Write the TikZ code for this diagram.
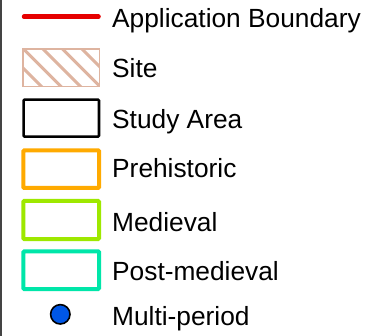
\documentclass[tikz,border=0pt]{standalone}
\usepackage{fontspec}
\setmainfont{Liberation Sans}
\definecolor{appred}{HTML}{E60000}
\definecolor{sitetan}{HTML}{DEB4A0}
\definecolor{prehist}{HTML}{FFAA00}
\definecolor{medgreen}{HTML}{9EE800}
\definecolor{postmed}{HTML}{00E6A9}
\definecolor{multiblue}{HTML}{0057E6}
\definecolor{edgegray}{HTML}{444444}
\begin{document}
\begin{tikzpicture}[x=1pt,y=-1pt,
  lbl/.style={anchor=base west,inner sep=0pt,font=\fontsize{26.3pt}{30pt}\selectfont},
  keybox/.style={line width=#1,rounded corners=1pt}]
\useasboundingbox (0,0) rectangle (387,336);
\fill[white] (0,0) rectangle (387,336);
\draw[edgegray,line width=1.5pt] (0.75,0) -- (0.75,336);
% Application boundary
\coordinate (ra) at (24,16.7);
\coordinate (rb) at (98.5,16.7);
\draw[appred,line width=4.5pt,line cap=round] (ra) -- (rb);
\node[lbl] (tapp) at (112,27.7) {Application Boundary};
% Site
\begin{scope}
\clip (22.8,49.2) rectangle (99.3,86.4);
\foreach \c in {-45,-25.5,-6,13.5,33} {
  \draw[sitetan,line width=3pt] (\c+40,40) -- (\c+100,100);
}
\end{scope}
\draw[sitetan,line width=1.5pt] (22.8,49.2) rectangle (99.3,86.4);
\node[lbl] (tsite) at (112,77.3) {Site};
% Study area
\draw[black,keybox=2.6pt] (23.6,99.6) rectangle (99,136.6);
\node[lbl] (tstudy) at (112,129) {Study Area};
% Prehistoric
\draw[prehist,keybox=4pt] (23.3,150.3) rectangle (99,188);
\node[lbl] (tpre) at (112,178) {Prehistoric};
% Medieval
\draw[medgreen,keybox=4pt] (23.3,201) rectangle (99,239);
\node[lbl] (tmed) at (112,231) {Medieval};
% Post-medieval
\draw[postmed,keybox=4pt] (23.3,251.3) rectangle (99,289);
\node[lbl] (tpost) at (112,280.7) {Post-medieval};
% Multi-period
\draw[black,fill=multiblue,line width=1.6pt] (60.3,314.3) circle (9.7);
\node[lbl] (tmulti) at (112,325) {Multi-period};
\end{tikzpicture}
\end{document}
